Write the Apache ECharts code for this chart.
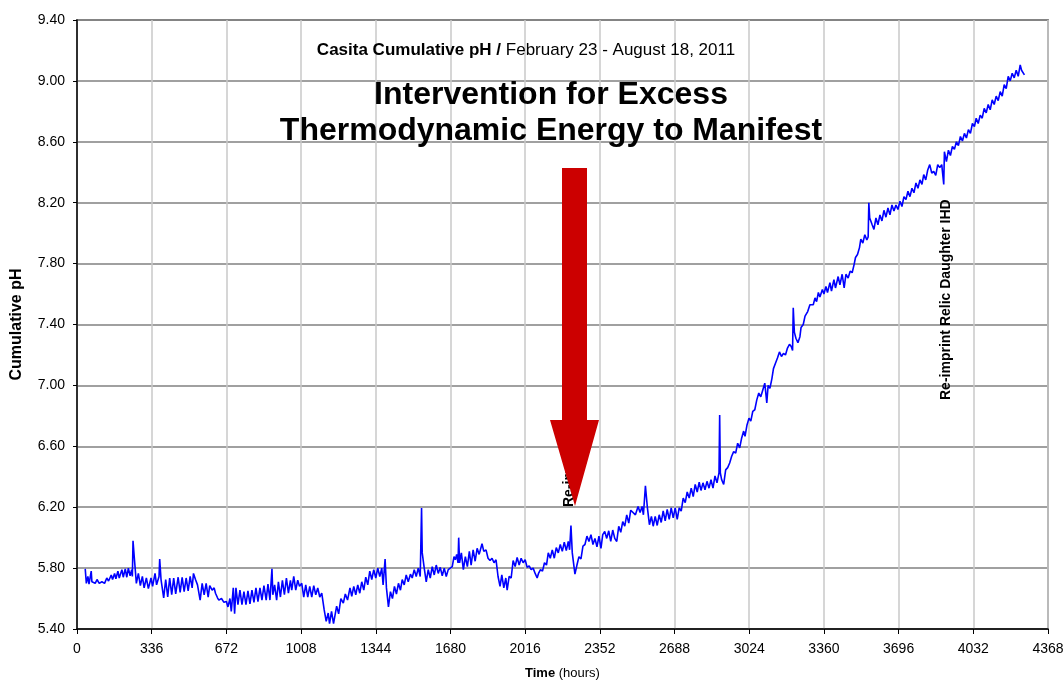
<!DOCTYPE html>
<html>
<head>
<meta charset="utf-8">
<script src="https://cdn.jsdelivr.net/npm/echarts@6/dist/echarts.min.js"></script>
<style>
  html, body { margin: 0; padding: 0; background: #fff; }
  #main { width: 1064px; height: 681px; }
</style>
</head>
<body>
<div id="main"></div>
<script>
// readings as [hour, cumulative pH]
var phase1 = [[37,5.795],[42,5.70],[49,5.745],[54,5.695],[64,5.78],[67,5.71],[75,5.72],[82,5.70],[90,5.725],[100,5.70],[112,5.71],[124,5.70],[134,5.735],[142,5.715],[154,5.755],[160,5.725],[169,5.765],[175,5.73],[184,5.78],[190,5.735],[202,5.79],[208,5.74],[217,5.795],[224,5.74],[231,5.80],[239,5.75],[246,5.79],[249,5.745],[252,5.98],[258,5.865],[267,5.70],[276,5.765],[285,5.685],[294,5.745],[302,5.67],[312,5.735],[321,5.665],[333,5.735],[340,5.68],[351,5.765],[358,5.69],[369,5.745],[372,5.86],[378,5.725],[390,5.605],[399,5.725],[408,5.61],[417,5.735],[426,5.625],[435,5.735],[444,5.63],[455,5.74],[464,5.64],[473,5.74],[482,5.645],[491,5.735],[500,5.65],[509,5.745],[518,5.67],[524,5.765],[533,5.725],[542,5.69],[554,5.59],[563,5.70],[572,5.625],[581,5.70],[590,5.61],[597,5.685],[608,5.655],[617,5.67],[623,5.635],[632,5.605],[638,5.59],[650,5.60],[661,5.575],[672,5.58],[679,5.545],[688,5.60],[694,5.515],[703,5.67],[709,5.50],[715,5.67],[724,5.56],[733,5.655],[742,5.56],[751,5.645],[760,5.56],[769,5.65],[778,5.565],[787,5.655],[796,5.575],[805,5.67],[814,5.58],[823,5.67],[832,5.59],[841,5.685],[851,5.59],[859,5.695],[868,5.59],[877,5.795],[881,5.625],[889,5.69],[898,5.59],[906,5.71],[915,5.61],[924,5.72],[933,5.625],[942,5.735],[951,5.635],[960,5.72],[966,5.655],[975,5.745],[984,5.655],[993,5.72],[1001,5.68],[1011,5.70],[1020,5.61],[1029,5.69],[1038,5.61],[1047,5.68],[1056,5.61],[1065,5.685],[1074,5.625],[1083,5.67],[1092,5.61],[1101,5.635],[1112,5.525],[1121,5.45],[1130,5.505],[1136,5.435],[1145,5.515],[1154,5.435]];

var phase2 = [[1168,5.55],[1177,5.50],[1187,5.60],[1198,5.57],[1207,5.63],[1217,5.59],[1228,5.67],[1236,5.615],[1245,5.68],[1254,5.625],[1263,5.69],[1272,5.635],[1281,5.71],[1290,5.655],[1299,5.74],[1308,5.69],[1317,5.78],[1326,5.725],[1335,5.79],[1344,5.735],[1353,5.80],[1362,5.745],[1371,5.80],[1377,5.69],[1386,5.86],[1392,5.67],[1401,5.545],[1410,5.645],[1419,5.60],[1428,5.68],[1437,5.63],[1446,5.70],[1455,5.655],[1463,5.725],[1472,5.69],[1481,5.755],[1490,5.71],[1500,5.76],[1508,5.735],[1517,5.79],[1526,5.745],[1535,5.80],[1544,5.745],[1550,6.195],[1553,5.90],[1562,5.80],[1571,5.71],[1580,5.79],[1589,5.735],[1598,5.81],[1607,5.755],[1616,5.82],[1625,5.765],[1634,5.805],[1643,5.75],[1652,5.80],[1661,5.745],[1670,5.79],[1679,5.80],[1688,5.81],[1696,5.875],[1702,5.855],[1708,5.89],[1714,5.835],[1717,6.00],[1721,5.835],[1729,5.90],[1738,5.79],[1747,5.875],[1756,5.81],[1765,5.91],[1773,5.82],[1782,5.92],[1791,5.845],[1800,5.93],[1809,5.89],[1822,5.96],[1830,5.91],[1840,5.92],[1849,5.865],[1858,5.85],[1867,5.865],[1876,5.835],[1885,5.855],[1894,5.745],[1903,5.68],[1911,5.755],[1920,5.67],[1929,5.735],[1935,5.655],[1944,5.745],[1953,5.735],[1962,5.85],[1971,5.81],[1980,5.87],[1989,5.82],[1998,5.865],[2007,5.835],[2016,5.855],[2025,5.805],[2034,5.815],[2043,5.79],[2052,5.80],[2061,5.765],[2070,5.735],[2076,5.765],[2085,5.79],[2094,5.78],[2103,5.835],[2112,5.82],[2120,5.90],[2129,5.865],[2138,5.92],[2147,5.865],[2156,5.935],[2165,5.90],[2174,5.955],[2183,5.91],[2192,5.97],[2201,5.915],[2210,5.975],[2216,5.92],[2222,6.08],[2228,5.90],[2240,5.76],[2249,5.82],[2258,5.875],[2267,5.86],[2276,5.945],[2285,5.955],[2294,6.01]];

var phase3 = [[2303,5.975],[2312,6.02],[2321,5.955],[2330,5.995],[2339,5.94],[2348,6.01],[2357,5.93],[2365,6.02],[2374,6.04],[2383,5.995],[2392,6.045],[2401,5.975],[2410,6.05],[2419,5.995],[2428,5.975],[2437,6.075],[2446,6.035],[2455,6.105],[2464,6.075],[2473,6.15],[2482,6.095],[2491,6.18],[2512,6.15],[2524,6.205],[2533,6.165],[2542,6.205],[2548,6.15],[2557,6.34],[2566,6.195],[2575,6.085],[2584,6.14],[2592,6.075],[2601,6.14],[2610,6.08],[2619,6.15],[2628,6.10],[2637,6.175],[2646,6.11],[2655,6.185],[2664,6.12],[2673,6.195],[2682,6.13],[2691,6.195],[2700,6.12],[2709,6.195],[2718,6.175],[2727,6.26],[2736,6.23],[2745,6.30],[2754,6.26],[2763,6.325],[2772,6.27],[2781,6.35],[2790,6.30],[2799,6.365],[2807,6.31],[2816,6.36],[2825,6.315],[2834,6.37],[2843,6.325],[2852,6.38],[2861,6.325],[2870,6.405],[2879,6.36],[2888,6.425],[2891,6.805],[2894,6.425],[2900,6.38],[2909,6.35],[2918,6.445],[2927,6.46],[2936,6.49],[2945,6.535],[2954,6.565],[2963,6.555],[2972,6.62],[2981,6.59],[2990,6.655],[2999,6.70],[3005,6.665],[3014,6.74],[3023,6.785],[3031,6.765],[3040,6.83],[3049,6.84],[3058,6.905],[3067,6.95],[3076,6.925],[3085,6.97],[3094,7.015],[3103,6.885],[3109,7.00],[3117,6.98],[3126,7.045],[3133,7.11],[3142,7.145],[3151,7.18],[3160,7.22],[3169,7.19],[3178,7.21],[3187,7.20],[3196,7.245],[3205,7.27],[3213,7.255],[3219,7.23],[3222,7.51],[3227,7.35],[3234,7.31],[3243,7.28],[3252,7.32]];

var phase4 = [[3257,7.38],[3267,7.40],[3275,7.455],[3287,7.485],[3297,7.53],[3305,7.54],[3312,7.53],[3320,7.575],[3327,7.55],[3335,7.61],[3342,7.58],[3353,7.63],[3360,7.60],[3369,7.65],[3376,7.61],[3387,7.675],[3394,7.62],[3405,7.695],[3412,7.64],[3424,7.715],[3432,7.66],[3442,7.73],[3451,7.64],[3459,7.73],[3469,7.705],[3478,7.75],[3487,7.74],[3496,7.795],[3502,7.84],[3511,7.86],[3520,7.905],[3526,7.96],[3535,7.935],[3544,7.99],[3553,7.955],[3559,7.975],[3562,8.20],[3566,8.10],[3577,8.055],[3585,8.025],[3594,8.10],[3603,8.055],[3612,8.12],[3621,8.08],[3630,8.15],[3639,8.105],[3648,8.165],[3657,8.12],[3666,8.185],[3675,8.145],[3684,8.185],[3693,8.155],[3702,8.21],[3711,8.175],[3720,8.24],[3729,8.22],[3738,8.275],[3747,8.24],[3756,8.295],[3765,8.265],[3774,8.33],[3783,8.295],[3792,8.35],[3801,8.32],[3809,8.385],[3818,8.35],[3827,8.415],[3836,8.45],[3845,8.395],[3854,8.405],[3863,8.38],[3872,8.45],[3881,8.43],[3890,8.45],[3896,8.44],[3899,8.32],[3902,8.535],[3911,8.47],[3920,8.545],[3929,8.51],[3938,8.57],[3947,8.55],[3956,8.60],[3965,8.575],[3974,8.635],[3983,8.605],[3992,8.655],[4001,8.625],[4010,8.68],[4019,8.655],[4028,8.72],[4037,8.70],[4045,8.755],[4054,8.72],[4063,8.775],[4072,8.755],[4081,8.82],[4090,8.79],[4099,8.845],[4108,8.81],[4117,8.875],[4126,8.845],[4135,8.90],[4144,8.87],[4153,8.93],[4162,8.90],[4171,8.975],[4180,8.95],[4189,9.03],[4198,9.00],[4207,9.05],[4216,9.02],[4225,9.07],[4234,9.03],[4243,9.105],[4249,9.07],[4262,9.04]];

var readings = phase1.concat(phase2, phase3, phase4);

var FONT = 'Liberation Sans, Arial, sans-serif';

var myChart = echarts.init(document.getElementById('main'));

var option = {
    backgroundColor: '#fff',
    animation: false,
    grid: {
        left: 77, right: 16, top: 20, bottom: 52,
        containLabel: false,
        outerBoundsMode: 'none',
        show: true,
        borderColor: '#909090',
        borderWidth: 2
    },
    xAxis: {
        type: 'value',
        min: 0, max: 4368, interval: 336,
        name: '{b|Time} (hours)',
        nameLocation: 'middle',
        nameGap: 38,
        nameTextStyle: {
            fontFamily: FONT, fontSize: 13, color: '#000',
            rich: { b: { fontFamily: FONT, fontSize: 13, fontWeight: 'bold', color: '#000' } }
        },
        axisLine: { lineStyle: { color: '#000', width: 1.5 } },
        axisTick: { show: true, length: 5, lineStyle: { color: '#000' } },
        axisLabel: {
            fontFamily: FONT, fontSize: 14, color: '#000', margin: 13,
            formatter: function (v) { return String(v); }
        },
        splitLine: { show: true, lineStyle: { color: '#c8c8c8', width: 1.5 } }
    },
    yAxis: {
        type: 'value',
        min: 5.4, max: 9.4, interval: 0.4,
        name: 'Cumulative pH',
        nameLocation: 'middle',
        nameGap: 52,
        nameTextStyle: { fontFamily: FONT, fontSize: 16, fontWeight: 'bold', color: '#000' },
        axisLine: { show: true, lineStyle: { color: '#000', width: 1.5 } },
        axisTick: { show: true, length: 4, lineStyle: { color: '#000' } },
        axisLabel: {
            fontFamily: FONT, fontSize: 14, color: '#000', margin: 12,
            formatter: function (v) { return v.toFixed(2); }
        },
        splitLine: { show: true, lineStyle: { color: '#808080', width: 1.5 } }
    },
    series: [{
        name: 'Cumulative pH',
        type: 'line',
        data: readings,
        showSymbol: false,
        lineStyle: { color: '#0000ff', width: 1.6 },
        z: 3
    }],
    graphic: [
        {
            type: 'text', x: 526, y: 50, z: 10,
            style: {
                text: '{b|Casita Cumulative pH /} February 23 - August 18, 2011',
                font: '17px ' + FONT, fill: '#000',
                textAlign: 'center', textVerticalAlign: 'middle',
                rich: { b: { fontFamily: FONT, fontSize: 17, fontWeight: 'bold', fill: '#000' } }
            }
        },
        {
            type: 'text', x: 551, y: 95, z: 10,
            style: {
                text: 'Intervention for Excess',
                font: 'bold 32px ' + FONT, fill: '#000',
                textAlign: 'center', textVerticalAlign: 'middle'
            }
        },
        {
            type: 'text', x: 551, y: 131, z: 10,
            style: {
                text: 'Thermodynamic Energy to Manifest',
                font: 'bold 32px ' + FONT, fill: '#000',
                textAlign: 'center', textVerticalAlign: 'middle'
            }
        },
        {
            // label half hidden behind the arrow
            type: 'text', x: 569, y: 507, rotation: Math.PI / 2, z: 10,
            style: {
                text: 'Re-imprint',
                font: 'bold 14px ' + FONT, fill: '#000',
                textAlign: 'left', textVerticalAlign: 'middle'
            }
        },
        {
            type: 'polygon', z: 20,
            shape: { points: [[562, 168], [587, 168], [587, 420], [599, 420], [575, 506], [550, 420], [562, 420]] },
            style: { fill: '#cc0000' }
        },
        {
            type: 'text', x: 946, y: 400, rotation: Math.PI / 2, z: 10,
            style: {
                text: 'Re-imprint Relic Daughter IHD',
                font: 'bold 14px ' + FONT, fill: '#000',
                textAlign: 'left', textVerticalAlign: 'middle'
            }
        }
    ]
};

myChart.setOption(option);
</script>
</body>
</html>
